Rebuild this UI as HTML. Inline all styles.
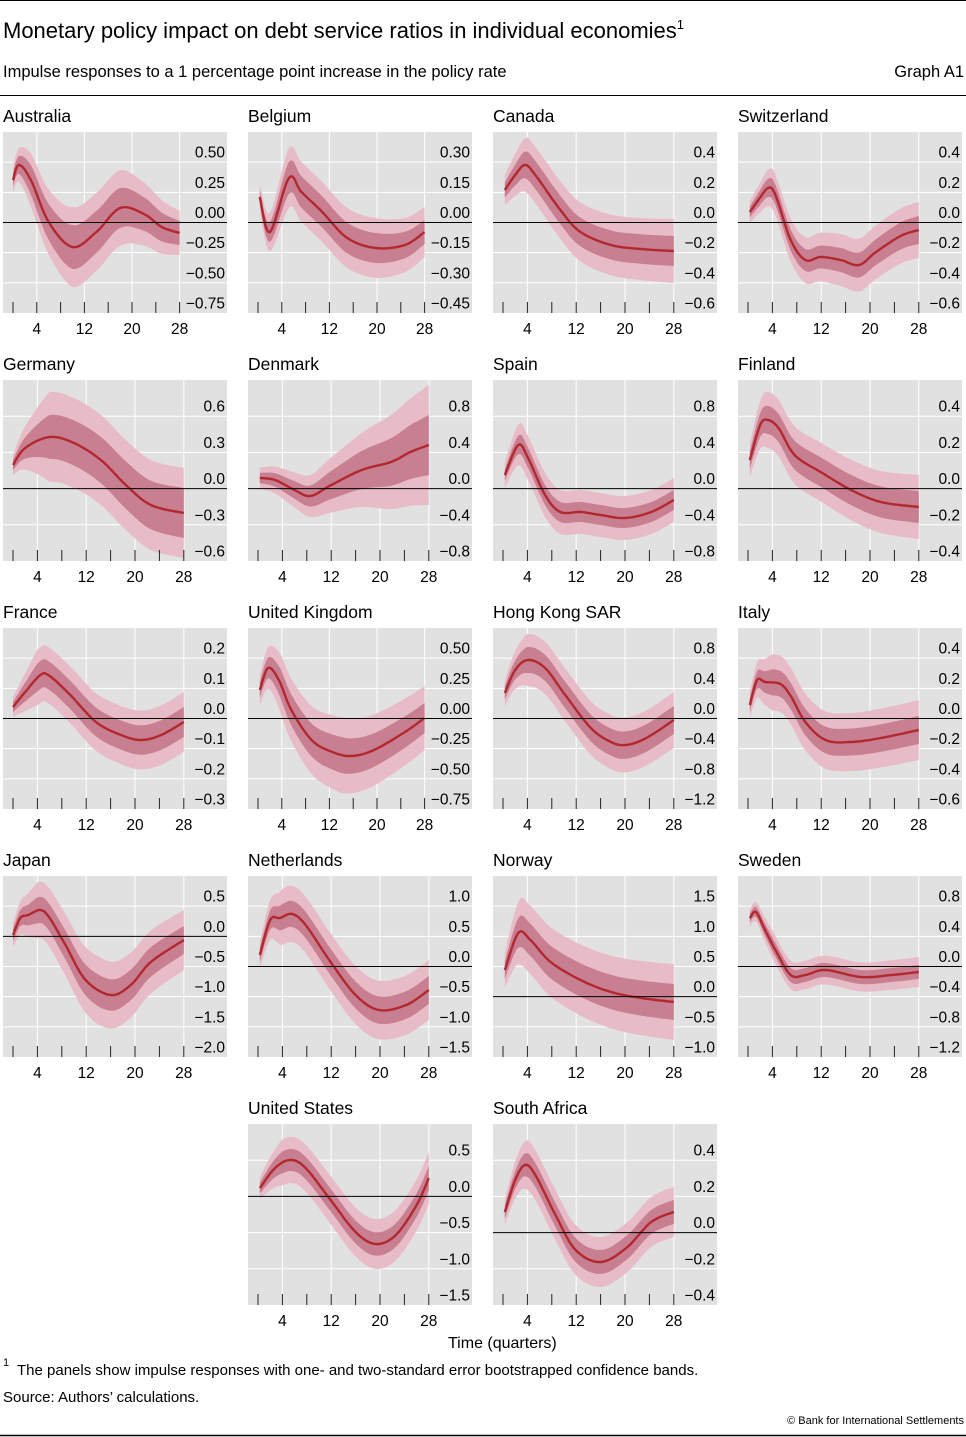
<!DOCTYPE html>
<html><head><meta charset="utf-8">
<style>
body{margin:0;background:#fff;width:966px;height:1437px;overflow:hidden;font-family:"Liberation Sans",sans-serif;}
svg{display:block}
</style></head>
<body>
<svg id="s" width="966" height="1437" xmlns="http://www.w3.org/2000/svg" font-family="Liberation Sans, sans-serif">
<line x1="0" y1="0.5" x2="966" y2="0.5" stroke="#000" stroke-width="1"/>
<text x="3" y="38" font-size="22" fill="#000">Monetary policy impact on debt service ratios in individual economies<tspan font-size="13" dy="-9">1</tspan></text>
<text x="3" y="77" font-size="16.5" fill="#000">Impulse responses to a 1 percentage point increase in the policy rate</text>
<text x="964" y="77" font-size="16.5" fill="#000" text-anchor="end">Graph A1</text>
<line x1="0" y1="95.5" x2="966" y2="95.5" stroke="#000" stroke-width="1"/>
<text x="448" y="1348" font-size="16" fill="#000">Time  (quarters)</text>
<text x="3" y="1366" font-size="11" fill="#000">1</text>
<text x="17" y="1375" font-size="15" fill="#000">The panels show impulse responses with one- and two-standard error bootstrapped confidence bands.</text>
<text x="3" y="1402" font-size="15" fill="#000">Source: Authors’ calculations.</text>
<text x="964" y="1424" font-size="11" fill="#000" text-anchor="end">© Bank for International Settlements</text>
<line x1="0" y1="1435.5" x2="966" y2="1435.5" stroke="#000" stroke-width="1.5"/>
<g id="g"></g>
</svg>
<script>
var P=[
{n:"Australia",c:0,r:0,s:5.95,l:["0.50","0.25","0.00","−0.25","−0.50","−0.75"],z:2,
 p:[[0,48],[1,33],[3,48],[6,90],[10,115],[14,100],[18,76],[22,82],[25,95],[28,101]],b:[[0,6,12],[3,15,27],[10,22,40],[18,20,38],[28,12,22]]},
{n:"Belgium",c:1,r:0,s:5.95,l:["0.30","0.15","0.00","−0.15","−0.30","−0.45"],z:2,
 p:[[0.3,65],[2,100],[5.2,46],[7.3,60],[10.8,80],[15,106],[19.8,116],[24.7,113],[28,100]],b:[[0,6,12],[5,16,30],[20,15,30],[28,12,25]]},
{n:"Canada",c:2,r:0,s:6.1,l:["0.4","0.2","0.0","−0.2","−0.4","−0.6"],z:2,
 p:[[0.3,58],[2,43],[3.6,33],[5.3,43],[9.4,78],[12.7,100],[17.7,113],[22.6,117],[28,119]],b:[[0,7,14],[4,14,28],[28,15,32]]},
{n:"Switzerland",c:3,r:0,s:6.1,l:["0.4","0.2","0.0","−0.2","−0.4","−0.6"],z:2,
 p:[[0.3,80],[1.7,68],[3.3,56],[4.5,63],[7,108],[9.4,128],[11.9,125],[15.2,128],[18.2,133],[21,120],[25,104],[28,98]],b:[[0,5,10],[4,10,20],[15,12,26],[28,14,28]]},
{n:"Germany",c:0,r:1,s:6.1,l:["0.6","0.3","0.0","−0.3","−0.6"],z:2,
 p:[[0,85],[2,68],[6,57],[10,63],[14.4,80],[18.5,105],[22.6,125],[28,133]],b:[[0,5,10],[6,22,45],[28,25,45]]},
{n:"Denmark",c:1,r:1,s:6.1,l:["0.8","0.4","0.0","−0.4","−0.8"],z:2,
 p:[[0.3,98],[2.8,100],[6,110],[8.6,116],[12,105],[17,90],[21.8,82],[25,72],[28,65]],b:[[0,5,10],[8,10,20],[16,18,35],[28,30,60]]},
{n:"Spain",c:2,r:1,s:6.1,l:["0.8","0.4","0.0","−0.4","−0.8"],z:2,
 p:[[0.3,95],[2.5,65],[4.1,78],[6.9,115],[9.4,132],[12.7,132],[16,135],[20,138],[24.3,132],[28,120]],b:[[0,5,12],[3,10,22],[28,10,22]]},
{n:"Finland",c:3,r:1,s:6.1,l:["0.4","0.2","0.0","−0.2","−0.4"],z:2,
 p:[[0.3,80],[2,45],[3.3,40],[5,48],[7,70],[8.6,80],[11.9,92],[16.9,110],[21.8,122],[28,127]],b:[[0,8,16],[3,14,28],[28,16,32]]},
{n:"France",c:0,r:2,s:6.1,l:["0.2","0.1","0.0","−0.1","−0.2","−0.3"],z:2,
 p:[[0,79],[2,64],[4.5,47],[6,48],[9.4,67],[13.6,94],[17.7,107],[21,112],[24.3,107],[28,94]],b:[[0,5,10],[4,14,28],[28,15,30]]},
{n:"United Kingdom",c:1,r:2,s:5.95,l:["0.50","0.25","0.00","−0.25","−0.50","−0.75"],z:2,
 p:[[0.3,62],[1.7,40],[3.5,52],[5.6,82],[9,112],[12.5,124],[15.7,128],[19.5,122],[24.7,104],[28,90]],b:[[0,7,14],[4,15,30],[14,18,38],[28,15,32]]},
{n:"Hong Kong SAR",c:2,r:2,s:6.1,l:["0.8","0.4","0.0","−0.4","−0.8","−1.2"],z:2,
 p:[[0.3,65],[2,42],[4.1,32],[6.9,40],[10.2,67],[14.4,100],[17.7,114],[20.2,117],[23.5,110],[28,92]],b:[[0,6,12],[4,13,26],[28,14,28]]},
{n:"Italy",c:3,r:2,s:6.1,l:["0.4","0.2","0.0","−0.2","−0.4","−0.6"],z:2,
 p:[[0.3,77],[1.5,52],[2.8,54],[5.3,56],[7,68],[9.4,94],[12.7,112],[16.9,114],[21.8,110],[28,102]],b:[[0,6,12],[4,13,28],[28,14,30]]},
{n:"Japan",c:0,r:3,s:6.1,l:["0.5","0.0","−0.5","−1.0","−1.5","−2.0"],z:1,
 p:[[0,59],[1.2,42],[2.5,39],[4.5,34],[6,42],[8.6,69],[11.9,104],[16,119],[19.3,109],[22.6,86],[28,64]],b:[[0,6,12],[4,13,28],[14,16,34],[28,14,30]]},
{n:"Netherlands",c:1,r:3,s:6.1,l:["1.0","0.5","0.0","−0.5","−1.0","−1.5"],z:2,
 p:[[0.3,79],[2,44],[3.6,42],[5.6,38],[7.8,49],[11.9,86],[16,119],[19.8,134],[24.3,129],[28,114]],b:[[0,6,12],[4,13,28],[28,14,30]]},
{n:"Norway",c:2,r:3,s:6.1,l:["1.5","1.0","0.5","0.0","−0.5","−1.0"],z:3,
 p:[[0.3,94],[2.5,57],[4.5,64],[7.8,86],[12.7,104],[17.7,116],[22.6,122],[28,126]],b:[[0,8,16],[3,16,34],[28,18,38]]},
{n:"Sweden",c:3,r:3,s:6.1,l:["0.8","0.4","0.0","−0.4","−0.8","−1.2"],z:2,
 p:[[0.3,42],[1.3,36],[2.8,54],[4.5,74],[7,99],[9.4,99],[12.7,94],[18.5,101],[23.5,99],[28,96]],b:[[0,4,8],[4,7,14],[28,7,15]]},
{n:"United States",c:1,r:4,s:6.1,l:["0.5","0.0","−0.5","−1.0","−1.5"],z:1,
 p:[[0.3,64],[2.8,44],[5.3,36],[7.8,44],[11.9,76],[16,108],[19.3,120],[22.6,111],[26,81],[28,54]],b:[[0,5,10],[4,11,23],[28,12,26]]},
{n:"South Africa",c:2,r:4,s:6.1,l:["0.4","0.2","0.0","−0.2","−0.4"],z:2,
 p:[[0.3,88],[2,56],[3.6,41],[5.3,51],[8.6,91],[11.9,126],[16,138],[20.2,124],[24.3,98],[28,88]],b:[[0,6,12],[4,12,25],[28,12,25]]}
];
function cr(pts,n){var o=[];for(var i=0;i<pts.length-1;i++){var p0=pts[Math.max(0,i-1)],p1=pts[i],p2=pts[i+1],p3=pts[Math.min(pts.length-1,i+2)];
for(var k=0;k<n;k++){var t=k/n,t2=t*t,t3=t2*t;
var f=function(a,b,c,d){return 0.5*((2*b)+(-a+c)*t+(2*a-5*b+4*c-d)*t2+(-a+3*b-3*c+d)*t3)};
o.push([f(p0[0],p1[0],p2[0],p3[0]),f(p0[1],p1[1],p2[1],p3[1])]);}}
o.push(pts[pts.length-1]);return o;}
function hw(b,q,j){if(q<=b[0][0])return b[0][j];for(var i=0;i<b.length-1;i++){if(q<=b[i+1][0]){var t=(q-b[i][0])/(b[i+1][0]-b[i][0]);return b[i][j]+t*(b[i+1][j]-b[i][j]);}}return b[b.length-1][j];}
var h="";
P.forEach(function(d,idx){
 var X=3+d.c*245,T=132+d.r*248,H=181,W=224,B=T+H,n=d.l.length,st=H/n;
 var qx=function(q){return X+10+q*d.s};
 h+='<text x="'+X+'" y="'+(T-10)+'" font-size="17.5" fill="#000">'+d.n+'</text>';
 h+='<rect x="'+X+'" y="'+T+'" width="'+W+'" height="'+H+'" fill="#e1e1e1"/>';
 h+='<clipPath id="c'+idx+'"><rect x="'+X+'" y="'+T+'" width="'+W+'" height="'+H+'"/></clipPath>';
 for(var i=0;i<n;i++){var gy=T+(i+1)*st;if(i!=d.z&&i<n-1)h+='<line x1="'+X+'" x2="'+(X+W)+'" y1="'+gy+'" y2="'+gy+'" stroke="#fff" stroke-width="1"/>';}
 [4,12,20,28].forEach(function(q){h+='<line x1="'+qx(q)+'" x2="'+qx(q)+'" y1="'+T+'" y2="'+B+'" stroke="#fff" stroke-width="1"/>';});
 var c=cr(d.p,12);
 var up=[],lo=[],ui=[],li=[];
 c.forEach(function(p){var o=hw(d.b,p[0],2),a=hw(d.b,p[0],1);var x=qx(p[0]).toFixed(1);
  up.push(x+','+(T+p[1]-o).toFixed(1));lo.push(x+','+(T+p[1]+o).toFixed(1));
  ui.push(x+','+(T+p[1]-a).toFixed(1));li.push(x+','+(T+p[1]+a).toFixed(1));});
 h+='<g clip-path="url(#c'+idx+')">';
 h+='<polygon points="'+up.join(' ')+' '+lo.reverse().join(' ')+'" fill="#e8bcc6"/>';
 h+='<polygon points="'+ui.join(' ')+' '+li.reverse().join(' ')+'" fill="#c77f91"/>';
 h+='<polyline points="'+c.map(function(p){return qx(p[0]).toFixed(1)+','+(T+p[1]).toFixed(1)}).join(' ')+'" fill="none" stroke="#b3282e" stroke-width="2.4" stroke-linejoin="round"/>';
 h+='</g>';
 var zy=T+(d.z+1)*st;
 h+='<line x1="'+X+'" x2="'+(X+W)+'" y1="'+zy+'" y2="'+zy+'" stroke="#000" stroke-width="1"/>';
 for(var i=0;i<n;i++){var gy=T+(i+1)*st;h+='<text x="'+(X+222)+'" y="'+(gy-4.5)+'" font-size="15.5" text-anchor="end" fill="#000">'+d.l[i]+'</text>';}
 for(var q=0;q<=28;q+=4)h+='<line x1="'+qx(q)+'" x2="'+qx(q)+'" y1="'+(B-11)+'" y2="'+B+'" stroke="#222" stroke-width="1"/>';
 [4,12,20,28].forEach(function(q){h+='<text x="'+qx(q)+'" y="'+(B+21)+'" font-size="15.5" text-anchor="middle" fill="#000">'+q+'</text>';});
});
document.getElementById("g").innerHTML=h;
</script>
</body></html>
